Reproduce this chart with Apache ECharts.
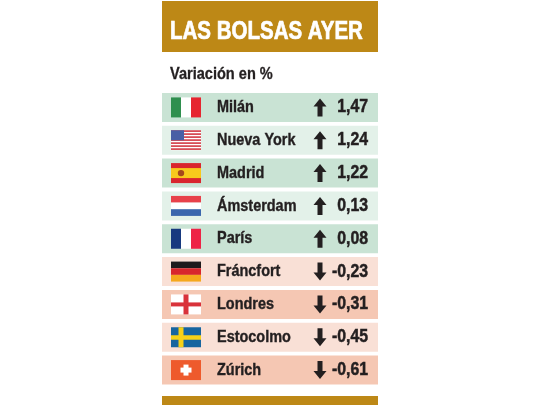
<!DOCTYPE html>
<html>
<head>
<meta charset="utf-8">
<style>
  html, body { margin: 0; padding: 0; background: #fff; }
  #chart { width: 540px; height: 405px; }
</style>
<script src="https://cdn.jsdelivr.net/npm/echarts@6/dist/echarts.min.js"></script>
</head>
<body>
<div id="chart"></div>
<script>
var titleText = 'LAS BOLSAS AYER';
var subtitleText = 'Variación en %';
var cities = ['Milán', 'Nueva York', 'Madrid', 'Ámsterdam', 'París', 'Fráncfort', 'Londres', 'Estocolmo', 'Zúrich'];
var variations = [1.47, 1.24, 1.22, 0.13, 0.08, -0.23, -0.31, -0.45, -0.61];
var flags = ['it', 'us', 'es', 'nl', 'fr', 'de', 'en', 'se', 'ch'];

var FONT = '"Liberation Sans", sans-serif';
var GOLD = '#bd8816';
var INK = '#231f20';

function rect(x, y, w, h, fill) {
  return { type: 'rect', shape: { x: x, y: y, width: w, height: h }, style: { fill: fill }, silent: true };
}

// flag drawn inside a 30x20 box whose top left corner is x,y
function flagShapes(code, x, y) {
  var out = [];
  var i;
  if (code === 'it') {
    out.push(rect(x, y, 10, 20, '#2f8f4e'), rect(x + 10, y, 10, 20, '#ffffff'), rect(x + 20, y, 10, 20, '#e6252f'));
  } else if (code === 'us') {
    out.push(rect(x, y, 30, 20, '#ffffff'));
    for (i = 0; i < 7; i++) {
      out.push(rect(x, y + i * 3, 30, 1.7, '#d5454f'));
    }
    out.push(rect(x, y, 13, 10, '#4a5fa5'));
  } else if (code === 'es') {
    out.push(rect(x, y, 30, 20, '#d9252e'), rect(x, y + 5, 30, 10, '#f8c91c'));
    out.push({ type: 'circle', shape: { cx: x + 10, cy: y + 10, r: 3.2 }, style: { fill: '#a5481c' }, silent: true });
  } else if (code === 'nl') {
    out.push(rect(x, y, 30, 6.7, '#e8414a'), rect(x, y + 6.7, 30, 6.6, '#ffffff'), rect(x, y + 13.3, 30, 6.7, '#3a66ad'));
  } else if (code === 'fr') {
    out.push(rect(x, y, 10, 20, '#17397f'), rect(x + 10, y, 10, 20, '#ffffff'), rect(x + 20, y, 10, 20, '#ee2346'));
  } else if (code === 'de') {
    out.push(rect(x, y, 30, 6.7, '#1d1a1b'), rect(x, y + 6.7, 30, 6.6, '#d8262c'), rect(x, y + 13.3, 30, 6.7, '#f5a81c'));
  } else if (code === 'en') {
    out.push(rect(x, y, 30, 20, '#ffffff'), rect(x + 12.5, y, 5, 20, '#d9323a'), rect(x, y + 8, 30, 4, '#d9323a'));
  } else if (code === 'se') {
    out.push(rect(x, y, 30, 20, '#17659f'), rect(x + 7.5, y, 5, 20, '#f7d117'), rect(x, y + 8, 30, 4.5, '#f7d117'));
  } else if (code === 'ch') {
    out.push(rect(x, y, 30, 20, '#ee5a2c'), rect(x + 12.5, y + 4.5, 5, 11, '#ffffff'), rect(x + 9.5, y + 7.5, 11, 5, '#ffffff'));
  }
  return out;
}

function arrowShape(cx, cy, up) {
  var d = up ? 1 : -1;
  var pts = [
    [cx, cy - 9 * d],
    [cx + 6.5, cy - 1 * d],
    [cx + 2.5, cy - 1 * d],
    [cx + 2.5, cy + 9 * d],
    [cx - 2.5, cy + 9 * d],
    [cx - 2.5, cy - 1 * d],
    [cx - 6.5, cy - 1 * d]
  ];
  return { type: 'polygon', shape: { points: pts }, style: { fill: INK }, silent: true };
}

// the print face is a heavy condensed grotesque, so the text is squeezed sideways and thickened
function narrowText(text, x, y, size, squeeze, align, fill, weight) {
  return {
    type: 'text',
    x: x,
    y: y,
    scaleX: squeeze,
    style: {
      x: 0, y: 0, text: text, fill: fill, stroke: fill, lineWidth: weight,
      font: 'bold ' + size + 'px ' + FONT, textAlign: align, textVerticalAlign: 'middle'
    }
  };
}

function renderRow(params, api) {
  var idx = api.value(0);
  var val = api.value(1);
  var cs = params.coordSys;
  var cy = api.coord([0, idx])[1];
  var h = api.size([0, 1])[1] * 0.885;
  var up = val >= 0;
  var strong = idx % 2 === 0;
  var fill = up ? (strong ? '#c9e3d4' : '#e3f1e9') : (strong ? '#f5c7b3' : '#f9e0d6');
  var children = [rect(cs.x, cy - h / 2, cs.width, h, fill)];
  children = children.concat(flagShapes(flags[idx], cs.x + 9, cy - 10));
  children.push(narrowText(cities[idx], cs.x + 55, cy, 17, 0.85, 'left', INK, 0.4));
  children.push(arrowShape(cs.x + 158, cy, up));
  children.push(narrowText(val.toFixed(2).replace('.', ','), cs.x + 206, cy, 18, 0.88, 'right', INK, 0.5));
  return { type: 'group', children: children };
}

var chart = echarts.init(document.getElementById('chart'), null, { renderer: 'canvas' });

chart.setOption({
  animation: false,
  backgroundColor: '#ffffff',
  graphic: [
    { type: 'rect', z: -1, shape: { x: 162, y: 1, width: 216, height: 51 }, style: { fill: GOLD } },
    { type: 'rect', z: -1, shape: { x: 162, y: 396, width: 216, height: 9 }, style: { fill: GOLD } },
    Object.assign(narrowText(titleText, 170, 32, 25, 0.82, 'left', '#ffffff', 0.7), { z: 1 }),
    Object.assign(narrowText(subtitleText, 170, 75, 16, 0.91, 'left', INK, 0.3), { z: 1 })
  ],
  grid: { left: 162, top: 91, width: 216, height: 295.5 },
  xAxis: { type: 'value', min: -1, max: 2, show: false },
  yAxis: { type: 'category', data: cities, inverse: true, show: false },
  series: [{
    type: 'custom',
    clip: false,
    renderItem: renderRow,
    encode: { x: 1, y: 0 },
    data: variations.map(function (v, i) { return [i, v]; })
  }]
});
</script>
</body>
</html>
